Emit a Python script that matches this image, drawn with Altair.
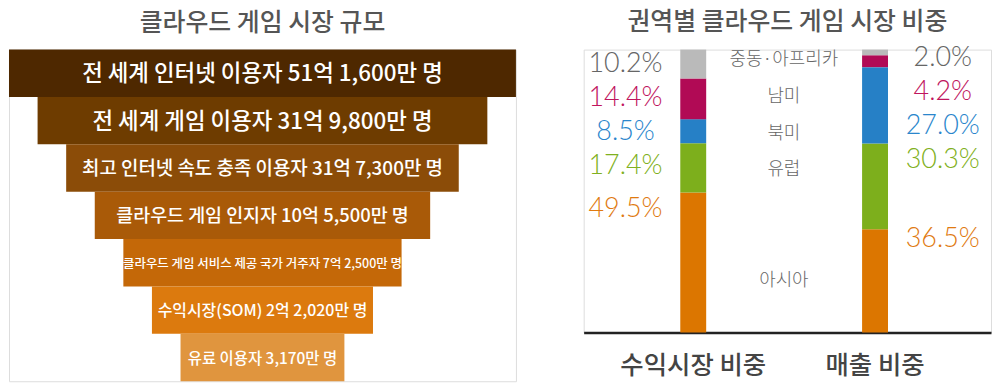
import altair as alt
import pandas as pd

# ---------------- data ----------------
funnel_labels = [
    "전 세계 인터넷 이용자 51억 1,600만 명",
    "전 세계 게임 이용자 31억 9,800만 명",
    "최고 인터넷 속도 충족 이용자 31억 7,300만 명",
    "클라우드 게임 인지자 10억 5,500만 명",
    "클라우드 게임 서비스 제공 국가 거주자 7억 2,500만 명",
    "수익시장(SOM) 2억 2,020만 명",
    "유료 이용자 3,170만 명",
]
bar_categories = ["수익시장 비중", "매출 비중"]
regions = ["아시아", "유럽", "북미", "남미", "중동·아프리카"]
revenue_market_share = [49.5, 17.4, 8.5, 14.4, 10.2]
sales_share = [36.5, 30.3, 27.0, 4.2, 2.0]

left_title = "클라우드 게임 시장 규모"
right_title = "권역별 클라우드 게임 시장 비중"

# ---------------- styles ----------------
funnel_colors = ["#4e2800", "#6e3c00", "#8b4c08", "#a95a08", "#c46808", "#dc7a0e", "#e0953e"]
funnel_font_sizes = [22.5, 22.5, 19, 18.5, 12.5, 16, 15.5]
seg_colors = ["#dc7600", "#7daf1c", "#2680c6", "#b10a55", "#bababa"]
txt_colors = ["#e07a10", "#80b020", "#2a86cc", "#c0155e", "#666666"]
KR = "Noto Sans CJK KR"

# ---------------- tables ----------------
funnel_df = pd.DataFrame({"level": list(range(len(funnel_labels))), "label": funnel_labels})

rows = []
for cat, vals in zip(bar_categories, [revenue_market_share, sales_share]):
    for i, (r, v) in enumerate(zip(regions, vals)):
        rows.append({"cat": cat, "region": r, "value": v, "idx": i})
share_df = pd.DataFrame(rows)

region_df = pd.DataFrame({"region": regions, "idx": list(range(len(regions))),
                          "cat": bar_categories[0]})
asia_label_val = min(revenue_market_share[0], sales_share[0]) / 2

# ---------------- left: funnel ----------------
fx = alt.Scale(domain=[0, 516], nice=False)
fy = alt.Scale(domain=list(range(len(funnel_labels))), paddingInner=0, paddingOuter=0)

fbase = alt.Chart(funnel_df).transform_calculate(
    lo="datum.level * 29.1", hi="516 - datum.level * 29.1", mid="258"
)
fbars = fbase.mark_bar(strokeWidth=0).encode(
    x=alt.X("lo:Q", scale=fx, axis=None),
    x2="hi:Q",
    y=alt.Y("level:O", scale=fy, axis=None),
    color=alt.Color("level:O", scale=alt.Scale(range=funnel_colors), legend=None),
)
ftexts = []
for lvl, fs in enumerate(funnel_font_sizes):
    ftexts.append(
        fbase.transform_filter(alt.datum.level == lvl).mark_text(
            color="white", font=KR, fontWeight=500, fontSize=fs,
            align="center", baseline="middle", dy=1,
        ).encode(
            x=alt.X("mid:Q", scale=fx, axis=None),
            y=alt.Y("level:O", scale=fy, axis=None),
            text="label:N",
        )
    )
left = alt.layer(fbars, *ftexts).properties(
    width=509, height=333,
    title=alt.TitleParams(left_title, fontSize=25, font=KR, fontWeight=500,
                          color="#555555", anchor="middle", offset=14),
)

# ---------------- right: stacked bars ----------------
xs = alt.Scale(domain=bar_categories, paddingInner=0.8575, paddingOuter=0.549, align=0.484)
ys = alt.Scale(domain=[0, 100], nice=False)
xenc = alt.X("cat:N", scale=xs, sort=bar_categories,
             axis=alt.Axis(title=None, ticks=False, labelAngle=0, labelFontSize=25.5,
                           labelFont=KR, labelFontWeight=500, labelColor="#444444",
                           labelPadding=21.5, domainColor="#222222", domainWidth=2.5))

sbars = alt.Chart(share_df).mark_bar(strokeWidth=0).encode(
    x=xenc,
    y=alt.Y("value:Q", stack="zero", scale=ys, axis=None),
    color=alt.Color("region:N", scale=alt.Scale(domain=regions, range=seg_colors), legend=None),
    order=alt.Order("idx:Q"),
)

pct_base = alt.Chart(share_df).transform_calculate(
    ly="datum.idx == 0 ? datum.value - 5 : 95.5 - 12 * (4 - datum.idx)",
    txt="format(datum.value, '.1f') + '%'",
)
pct_enc = dict(
    x=alt.X("cat:N", scale=xs, sort=bar_categories),
    y=alt.Y("ly:Q", scale=ys, axis=None),
    text="txt:N",
    color=alt.Color("region:N", scale=alt.Scale(domain=regions, range=txt_colors), legend=None),
)
pct_left = pct_base.transform_filter(alt.datum.cat == bar_categories[0]).mark_text(
    font="Lato", fontWeight=300, fontSize=27, align="center", baseline="middle", dx=-68, dy=2
).encode(**pct_enc)
pct_right = pct_base.transform_filter(alt.datum.cat == bar_categories[1]).mark_text(
    font="Lato", fontWeight=300, fontSize=27, align="center", baseline="middle", dx=68, dy=-4
).encode(**pct_enc)

reg_text = alt.Chart(region_df).transform_calculate(
    ly=f"datum.idx == 0 ? {asia_label_val} : 96.3 - 13.0 * (4 - datum.idx)"
).mark_text(font=KR, fontWeight=300, fontSize=18, color="#666666", align="center",
            baseline="middle", dx=91).encode(
    x=alt.X("cat:N", scale=xs, sort=bar_categories),
    y=alt.Y("ly:Q", scale=ys, axis=None),
    text="region:N",
)

right = alt.layer(sbars, pct_left, pct_right, reg_text).resolve_scale(
    color="independent"
).properties(
    width=409, height=284,
    title=alt.TitleParams(right_title, fontSize=25, font=KR, fontWeight=500,
                          color="#555555", anchor="middle", offset=9.3),
)

chart = alt.hconcat(left, right, spacing=66).properties(padding=0).configure_view(
    stroke=None
).configure(background="white")

chart.save("out.html", embed_options={"renderer": "svg", "actions": False})
